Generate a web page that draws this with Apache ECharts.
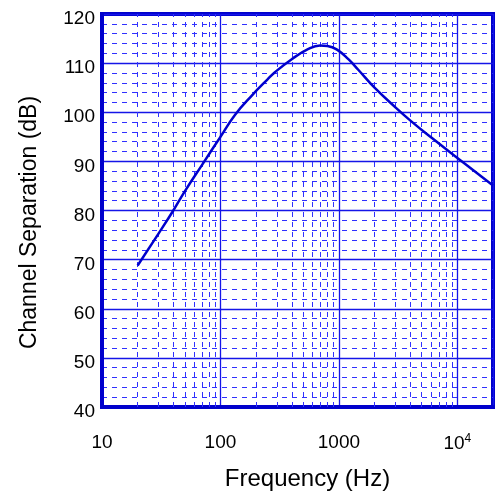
<!DOCTYPE html>
<html>
<head>
<meta charset="utf-8">
<script src="https://cdn.jsdelivr.net/npm/echarts@6/dist/echarts.min.js"></script>
<style>
html,body{margin:0;padding:0;background:#fff;}
#chart{width:495px;height:493px;}
</style>
</head>
<body>
<div id="chart"></div>
<script>
// Data
const freqHz = [20, 30, 40, 50, 70, 100, 133, 184, 250, 290, 400, 553, 693, 800, 957, 1202, 1463, 2000, 3000, 4110, 6070, 10000, 20000];
const separationDb = [68.8, 75.3, 80.0, 83.9, 89.3, 95.0, 99.5, 103.4, 106.7, 108.2, 110.8, 112.9, 113.6, 113.5, 112.8, 110.8, 108.6, 105.0, 101.0, 98.1, 94.8, 90.7, 85.1];
const xMajorLabels = {10: '10', 100: '100', 1000: '1000', 10000: '{b|10}{sup|4}'};
const xMinorGrid = [20,30,40,50,60,70,80,90,200,300,400,500,600,700,800,900,2000,3000,4000,5000,6000,7000,8000,9000];

const FRAME = '#0000cc';
const GRID = '#1515e8';
const MINOR = '#3030ff';
const FONT = 'Liberation Sans, Arial, sans-serif';

const chart = echarts.init(document.getElementById('chart'), null, {renderer: 'canvas'});
chart.setOption({
  animation: false,
  backgroundColor: '#fff',
  grid: {left: 102, right: 2, top: 14, bottom: 86, show: true, borderColor: FRAME, borderWidth: 4, backgroundColor: 'transparent', containLabel: false, outerBoundsMode: 'none'},
  xAxis: {
    type: 'log', logBase: 10, min: 10, max: 20000,
    name: 'Frequency (Hz)', nameLocation: 'middle', nameGap: 60,
    nameTextStyle: {fontFamily: FONT, fontSize: 24, color: '#000', padding: [0, 0, 0, 20]},
    axisLine: {show: true, lineStyle: {color: FRAME, width: 4}},
    axisTick: {show: false},
    axisLabel: {
      margin: 26, fontFamily: FONT, fontSize: 19, color: '#000', showMaxLabel: false,
      formatter: v => xMajorLabels[Math.round(v)] || '',
      rich: {b: {fontFamily: FONT, fontSize: 19, color: '#000'}, sup: {fontFamily: FONT, fontSize: 12, color: '#000', verticalAlign: 'top', padding: [0,0,10,0]}}
    },
    splitLine: {show: true, lineStyle: {color: GRID, width: 1.3}}
  },
  yAxis: {
    type: 'value', min: 40, max: 120, interval: 10,
    name: 'Channel Separation (dB)', nameLocation: 'middle', nameGap: 61, nameRotate: 90,
    nameTextStyle: {fontFamily: FONT, fontSize: 23, color: '#000', padding: [0, 24, 0, 0]},
    axisLine: {show: true, lineStyle: {color: FRAME, width: 4}},
    axisTick: {show: false},
    axisLabel: {margin: 7, fontFamily: FONT, fontSize: 19, color: '#000', verticalAlign: 'top', lineHeight: 10},
    splitLine: {show: true, lineStyle: {color: GRID, width: 1.3}},
    minorTick: {show: false, splitNumber: 5},
    minorSplitLine: {show: true, lineStyle: {color: MINOR, width: 1, type: [5, 5]}}
  },
  series: [{
    type: 'line',
    data: freqHz.map((f, i) => [f, separationDb[i]]),
    showSymbol: false, symbol: 'none', smooth: 0.45,
    itemStyle: {color: FRAME},
    lineStyle: {color: FRAME, width: 2.5},
    z: 5,
    markLine: {
      silent: true, symbol: ['none', 'none'], label: {show: false},
      itemStyle: {color: MINOR},
      lineStyle: {color: MINOR, width: 1, type: [5, 5], opacity: 1},
      emphasis: {disabled: true},
      data: xMinorGrid.map(v => ({xAxis: v})),
      z: 1
    }
  }]
});
</script>
</body>
</html>
